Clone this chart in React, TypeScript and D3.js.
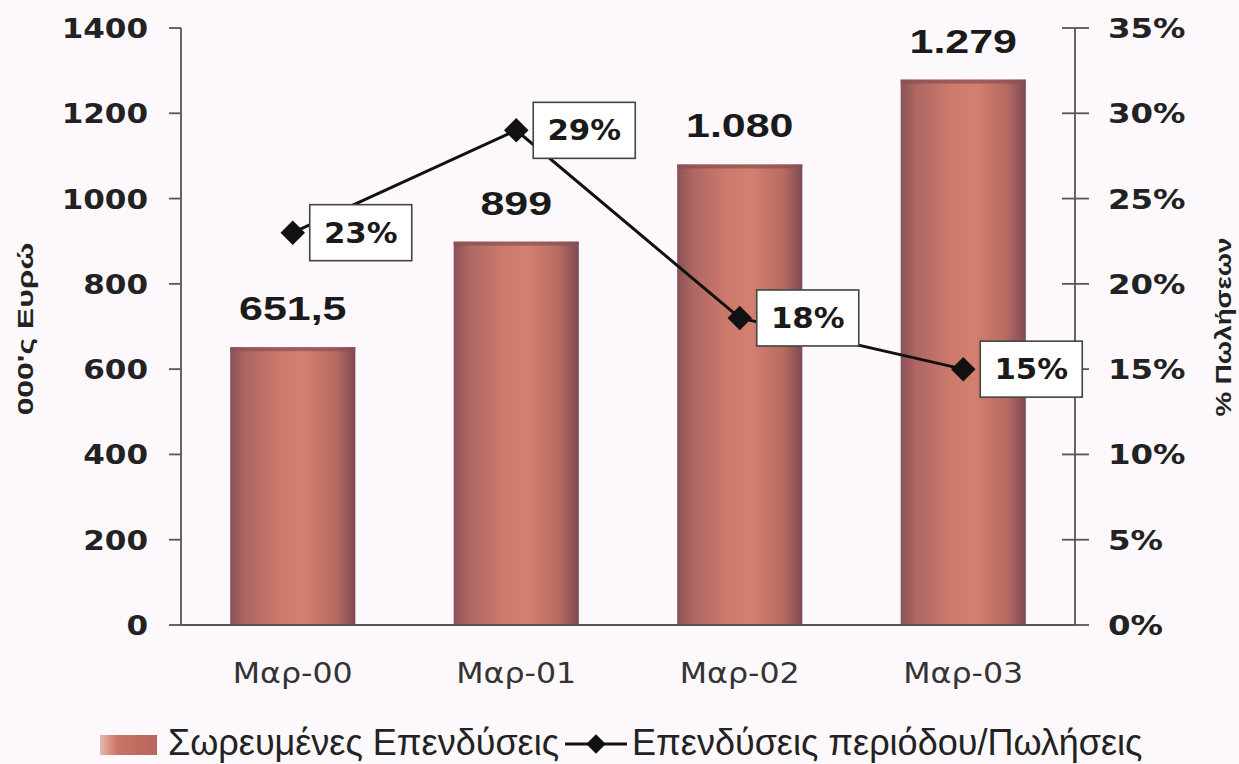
import React, { useLayoutEffect, useRef, useState } from "react";
import * as d3 from "d3";

const categories = ["Μαρ-00", "Μαρ-01", "Μαρ-02", "Μαρ-03"];
const investments = [651.5, 899, 1080, 1279];
const investmentLabels = ["651,5", "899", "1.080", "1.279"];
const ratios = [0.23, 0.29, 0.18, 0.15];
const ratioLabels = ["23%", "29%", "18%", "15%"];
const leftTicks = [0, 200, 400, 600, 800, 1000, 1200, 1400];
const rightTicks = [0, 0.05, 0.1, 0.15, 0.2, 0.25, 0.3, 0.35];
const rightTickLabels = ["0%", "5%", "10%", "15%", "20%", "25%", "30%", "35%"];
const leftTitle = "000'ς Ευρώ";
const rightTitle = "% Πωλήσεων";
const legendBar = "Σωρευμένες Επενδύσεις";
const legendLine = "Επενδύσεις περιόδου/Πωλήσεις";

const W = 1239;
const H = 764;
const plot = { left: 181, right: 1075, top: 28, bottom: 625 };

const VERDANA = "'DejaVu Sans', Verdana, sans-serif";
const ARIAL = "'Liberation Sans', Arial, sans-serif";

function ST(props: {
  x: number;
  y: number;
  sx?: number;
  anchor?: string;
  size: number;
  weight?: string | number;
  family: string;
  fill?: string;
  rotate?: number;
  tref?: React.Ref<SVGTextElement>;
  children: React.ReactNode;
}) {
  const { x, y, sx = 1, anchor = "middle", size, weight = "normal", family, fill = "#1a1a1a", rotate = 0 } = props;
  return (
    <text
      ref={props.tref}
      transform={`translate(${x},${y}) rotate(${rotate}) scale(${sx},1)`}
      textAnchor={anchor}
      fontSize={size}
      fontWeight={weight}
      fontFamily={family}
      fill={fill}
    >
      {props.children}
    </text>
  );
}

export default function App() {
  const x = d3
    .scaleBand<string>()
    .domain(categories)
    .range([plot.left, plot.right])
    .paddingInner(0.44)
    .paddingOuter(0.22);
  const yL = d3.scaleLinear().domain([0, 1400]).range([plot.bottom, plot.top]);
  const yR = d3.scaleLinear().domain([0, 0.35]).range([plot.bottom, plot.top]);
  const cx = (c: string) => (x(c) as number) + x.bandwidth() / 2;

  const linePath = d3
    .line<number>()
    .x((_, i) => cx(categories[i]))
    .y((d) => yR(d))(ratios) as string;

  const marker = d3.symbol().type(d3.symbolSquare).size(300)() as string;
  const legendMarker = d3.symbol().type(d3.symbolSquare).size(190)() as string;
  const axisColor = "#555";

  const t1Ref = useRef<SVGTextElement>(null);
  const [w1, setW1] = useState(385);
  useLayoutEffect(() => {
    if (t1Ref.current) setW1(t1Ref.current.getBBox().width);
  }, []);

  const legendSize = 36;
  const t1x = 168;
  const mx0 = t1x + w1 + 6;
  const mx1 = mx0 + 62;
  const t2x = mx1 + 5;

  return (
    <svg width={W} height={H} style={{ position: "absolute", left: 0, top: 0 }}>
      <defs>
        <linearGradient id="barGrad" x1="0" x2="1" y1="0" y2="0">
          <stop offset="0" stopColor="#8a5256" />
          <stop offset="0.12" stopColor="#ad6662" />
          <stop offset="0.4" stopColor="#cd7a6d" />
          <stop offset="0.6" stopColor="#d2806f" />
          <stop offset="0.85" stopColor="#b66a60" />
          <stop offset="1" stopColor="#7c4a55" />
        </linearGradient>
        <linearGradient id="legGrad" x1="0" x2="1" y1="0" y2="0">
          <stop offset="0" stopColor="#e8b8b0" />
          <stop offset="0.3" stopColor="#c97466" />
          <stop offset="1" stopColor="#b8665c" />
        </linearGradient>
      </defs>
      <rect x={0} y={0} width={W} height={H} fill="#fcf8fb" />

      {/* bars */}
      {categories.map((c, i) => (
        <g key={c}>
          <rect
            x={x(c)}
            y={yL(investments[i])}
            width={x.bandwidth()}
            height={yL(0) - yL(investments[i])}
            fill="url(#barGrad)"
          />
          <rect x={x(c)} y={yL(investments[i])} width={x.bandwidth()} height={4} fill="#8a4f55" opacity={0.7} />
        </g>
      ))}

      {/* left axis */}
      <line x1={plot.left} x2={plot.left} y1={plot.top} y2={plot.bottom} stroke={axisColor} strokeWidth={1.8} />
      {leftTicks.map((t) => (
        <g key={t}>
          <line x1={plot.left - 12} x2={plot.left} y1={yL(t)} y2={yL(t)} stroke={axisColor} strokeWidth={1.8} />
          <ST x={plot.left - 33} y={yL(t) + 10} anchor="end" size={27} weight="bold" family={VERDANA} sx={1.15} fill="#222">
            {t}
          </ST>
        </g>
      ))}

      {/* right axis */}
      <line x1={plot.right} x2={plot.right} y1={plot.top} y2={plot.bottom} stroke={axisColor} strokeWidth={1.8} />
      {rightTicks.map((t, i) => (
        <g key={t}>
          <line x1={plot.right - 13} x2={plot.right + 14} y1={yR(t)} y2={yR(t)} stroke={axisColor} strokeWidth={1.8} />
          <ST x={plot.right + 33} y={yR(t) + 10} anchor="start" size={27} weight="bold" family={VERDANA} sx={1.2} fill="#222">
            {rightTickLabels[i]}
          </ST>
        </g>
      ))}

      {/* x axis */}
      <line x1={plot.left} x2={plot.right} y1={plot.bottom} y2={plot.bottom} stroke={axisColor} strokeWidth={1.8} />
      {categories.map((c) => (
        <ST key={c} x={cx(c)} y={683} size={28} family={VERDANA} sx={1.13} fill="#333">
          {c}
        </ST>
      ))}

      {/* bar labels */}
      {categories.map((c, i) => (
        <ST key={c} x={cx(c)} y={yL(investments[i]) - 27} size={33} weight="bold" family={ARIAL} sx={1.3} fill="#1a1a1a">
          {investmentLabels[i]}
        </ST>
      ))}

      {/* line */}
      <path d={linePath} fill="none" stroke="#111" strokeWidth={3} />
      {ratios.map((r, i) => (
        <path key={i} d={marker} transform={`translate(${cx(categories[i])},${yR(r)}) rotate(45)`} fill="#111" />
      ))}

      {/* ratio labels */}
      {ratios.map((r, i) => {
        const bx = cx(categories[i]) + 17;
        const by = yR(r) - 28;
        return (
          <g key={i}>
            <rect x={bx} y={by} width={102} height={56} fill="#fff" stroke="#444" strokeWidth={1.6} />
            <ST x={bx + 51} y={by + 38} size={28} weight="bold" family={VERDANA} sx={1.1} fill="#1a1a1a">
              {ratioLabels[i]}
            </ST>
          </g>
        );
      })}

      {/* axis titles */}
      <ST x={33} y={329} rotate={-90} size={22} weight="bold" family={ARIAL} sx={1.45} fill="#222">
        {leftTitle}
      </ST>
      <ST x={1231} y={327} rotate={-90} size={22} weight="bold" family={ARIAL} sx={1.26} fill="#222">
        {rightTitle}
      </ST>

      {/* legend */}
      <rect x={100} y={735} width={57} height={20} fill="url(#legGrad)" />
      <ST tref={t1Ref} x={t1x} y={755} anchor="start" size={legendSize} family={ARIAL} fill="#222">
        {legendBar}
      </ST>
      <line x1={mx0} x2={mx1} y1={744} y2={744} stroke="#111" strokeWidth={3} />
      <path d={legendMarker} transform={`translate(${(mx0 + mx1) / 2},744) rotate(45)`} fill="#111" />
      <ST x={t2x} y={755} anchor="start" size={legendSize} family={ARIAL} fill="#222">
        {legendLine}
      </ST>
    </svg>
  );
}
